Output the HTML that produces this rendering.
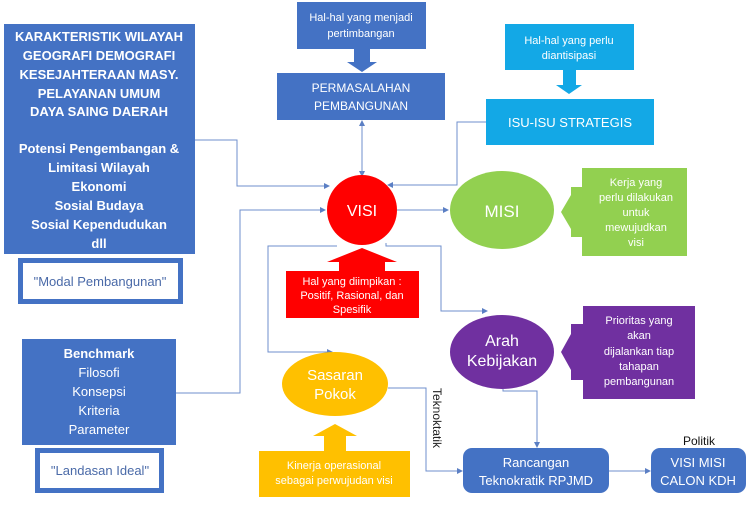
<!DOCTYPE html>
<html><head><meta charset="utf-8"><style>
html,body{margin:0;padding:0;background:#fff}
svg text{font-family:"Liberation Sans",sans-serif}
</style></head><body>
<svg width="750" height="500" viewBox="0 0 750 500" xmlns="http://www.w3.org/2000/svg">
<defs>
<marker id="a" markerWidth="6" markerHeight="6" refX="5" refY="3" orient="auto"><path d="M0,0L6,3L0,6z" fill="#5b7fc4"/></marker>
</defs>
<g fill="none" stroke="#6f8fcc" stroke-width="1">
<path d="M195,140H237V186H329" marker-end="url(#a)"/>
<path d="M176,393H240V210H325" marker-end="url(#a)"/>
<path d="M337,246H268V352H332" marker-end="url(#a)"/>
<path d="M362,123V176" marker-end="url(#a)"/>
<path d="M362,176V121" marker-end="url(#a)"/>
<path d="M486,122H457V185H388" marker-end="url(#a)"/>
<path d="M397,210H448" marker-end="url(#a)"/>
<path d="M386,243V246H441V311H487" marker-end="url(#a)"/>
<path d="M388,388H426V471H462" marker-end="url(#a)"/>
<path d="M503,389V391H537V447" marker-end="url(#a)"/>
<path d="M609,471H650" marker-end="url(#a)"/>
</g>
<rect x="4" y="24" width="191" height="230" fill="#4472c4"/>
<g fill="#fff" font-weight="bold" font-size="13" text-anchor="middle">
<text x="99" y="41">KARAKTERISTIK WILAYAH</text>
<text x="99" y="60">GEOGRAFI DEMOGRAFI</text>
<text x="99" y="79">KESEJAHTERAAN MASY.</text>
<text x="99" y="98">PELAYANAN UMUM</text>
<text x="99" y="116">DAYA SAING DAERAH</text>
<text x="99" y="153">Potensi Pengembangan &amp;</text>
<text x="99" y="172">Limitasi Wilayah</text>
<text x="99" y="191">Ekonomi</text>
<text x="99" y="210">Sosial Budaya</text>
<text x="99" y="229">Sosial Kependudukan</text>
<text x="99" y="248">dll</text>
</g>
<rect x="20.5" y="260.5" width="160" height="41" fill="#fff" stroke="#4472c4" stroke-width="5"/>
<text x="100" y="286" font-size="13" fill="#4a6aa8" text-anchor="middle">"Modal Pembangunan"</text>
<rect x="22" y="339" width="154" height="106" fill="#4472c4"/>
<g fill="#fff" font-size="13" text-anchor="middle">
<text x="99" y="358" font-weight="bold">Benchmark</text>
<text x="99" y="377">Filosofi</text>
<text x="99" y="396">Konsepsi</text>
<text x="99" y="415">Kriteria</text>
<text x="99" y="434">Parameter</text>
</g>
<rect x="37.5" y="450.5" width="124" height="40" fill="#fff" stroke="#4472c4" stroke-width="5"/>
<text x="100" y="475" font-size="13" fill="#4a6aa8" text-anchor="middle">"Landasan Ideal"</text>

<rect x="297" y="2" width="129" height="47" fill="#4472c4"/>
<text x="361" y="21" font-size="11" fill="#fff" text-anchor="middle">Hal-hal yang menjadi</text>
<text x="361" y="37" font-size="11" fill="#fff" text-anchor="middle">pertimbangan</text>
<path d="M354,49H370V62H377L362,72L347,62H354z" fill="#4472c4"/>
<rect x="277" y="73" width="168" height="47" fill="#4472c4"/>
<text x="361" y="92" font-size="12" fill="#fff" text-anchor="middle">PERMASALAHAN</text>
<text x="361" y="110" font-size="12" fill="#fff" text-anchor="middle">PEMBANGUNAN</text>

<rect x="505" y="24" width="129" height="46" fill="#13a8e6"/>
<text x="569" y="44" font-size="11" fill="#fff" text-anchor="middle">Hal-hal yang perlu</text>
<text x="569" y="59" font-size="11" fill="#fff" text-anchor="middle">diantisipasi</text>
<path d="M563,70H576V85H582L569,94L556,85H563z" fill="#13a8e6"/>
<rect x="486" y="99" width="168" height="46" fill="#13a8e6"/>
<text x="570" y="127" font-size="13" fill="#fff" text-anchor="middle">ISU-ISU STRATEGIS</text>

<circle cx="362" cy="210" r="35" fill="#ff0000"/>
<text x="362" y="216" font-size="16" fill="#fff" text-anchor="middle">VISI</text>
<path d="M286,271H419V318H286z M339,271V262H327L362,248L397,262H385V271z" fill="#ff0000"/>
<text x="352" y="285" font-size="11" fill="#fff" text-anchor="middle">Hal yang diimpikan :</text>
<text x="352" y="299" font-size="11" fill="#fff" text-anchor="middle">Positif, Rasional, dan</text>
<text x="352" y="313" font-size="11" fill="#fff" text-anchor="middle">Spesifik</text>

<ellipse cx="502" cy="210" rx="52" ry="39" fill="#92d050"/>
<text x="502" y="217" font-size="17" fill="#fff" text-anchor="middle">MISI</text>
<path d="M582,168H687V256H582V237H571V229L561,212L571,195V187H582z" fill="#92d050"/>
<g font-size="11" fill="#fff" text-anchor="middle">
<text x="636" y="186">Kerja yang</text><text x="636" y="201">perlu dilakukan</text><text x="636" y="216">untuk</text><text x="636" y="231">mewujudkan</text><text x="636" y="246">visi</text>
</g>

<ellipse cx="502" cy="352" rx="52" ry="37" fill="#7030a0"/>
<text x="502" y="346" font-size="16" fill="#fff" text-anchor="middle">Arah</text>
<text x="502" y="366" font-size="16" fill="#fff" text-anchor="middle">Kebijakan</text>
<path d="M583,306H695V399H583V380H571V370L561,352L571,334V324H583z" fill="#7030a0"/>
<g font-size="11" fill="#fff" text-anchor="middle">
<text x="639" y="324">Prioritas yang</text><text x="639" y="339">akan</text><text x="639" y="355">dijalankan tiap</text><text x="639" y="370">tahapan</text><text x="639" y="385">pembangunan</text>
</g>

<ellipse cx="335" cy="384" rx="53" ry="32" fill="#ffc000"/>
<text x="335" y="380" font-size="15" fill="#fff" text-anchor="middle">Sasaran</text>
<text x="335" y="399" font-size="15" fill="#fff" text-anchor="middle">Pokok</text>
<path d="M259,451H410V497H259z M324,451V436H313L335,424L357,436H346V451z" fill="#ffc000"/>
<text x="334" y="469" font-size="11" fill="#fff" text-anchor="middle">Kinerja operasional</text>
<text x="334" y="484" font-size="11" fill="#fff" text-anchor="middle">sebagai perwujudan visi</text>

<text x="0" y="0" font-size="12" fill="#222" transform="translate(433,388) rotate(90)">Teknoktatik</text>

<rect x="463" y="448" width="146" height="45" rx="9" fill="#4472c4"/>
<text x="536" y="467" font-size="13" fill="#fff" text-anchor="middle">Rancangan</text>
<text x="536" y="485" font-size="13" fill="#fff" text-anchor="middle">Teknokratik RPJMD</text>
<rect x="651" y="448" width="95" height="45" rx="9" fill="#4472c4"/>
<text x="698" y="467" font-size="13" fill="#fff" text-anchor="middle">VISI MISI</text>
<text x="698" y="485" font-size="13" fill="#fff" text-anchor="middle">CALON KDH</text>
<text x="699" y="445" font-size="12" fill="#111" text-anchor="middle">Politik</text>
</svg>
</body></html>
